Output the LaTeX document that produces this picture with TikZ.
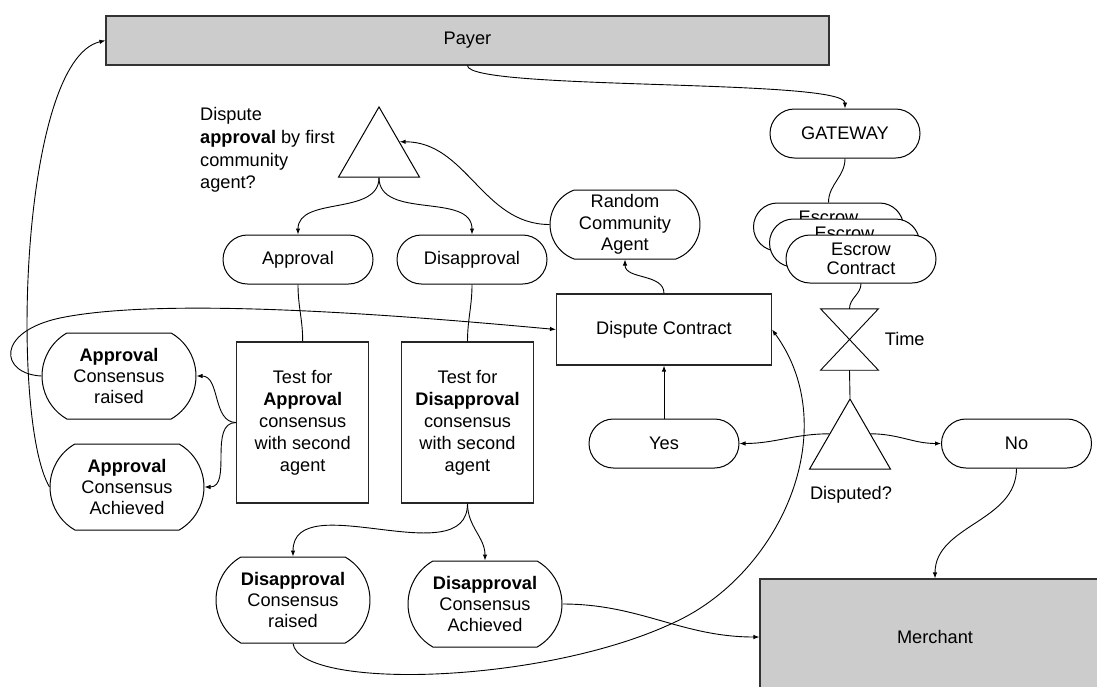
\documentclass[tikz,border=0pt]{standalone}
\usepackage{fontspec}
\setmainfont{Liberation Sans}
\usetikzlibrary{
  arrows.meta,
  positioning,
  shapes.geometric,
  shapes.misc
}
\definecolor{actorgray}{HTML}{CCCCCC}

\begin{document}
\begin{tikzpicture}[
            x=1pt, y=-1pt,
            font=\fontsize{18.2}{22}\selectfont,
            actor/.style={rectangle, minimum height=49pt, text centered, draw=black!80, line width=1.1pt, fill=actorgray, inner sep=0pt},
            process/.style={rectangle, minimum width=132pt, minimum height=161pt, align=center, draw=black!85, line width=1.1pt, fill=white, inner sep=0pt},
            terminal/.style={rounded rectangle, minimum width=150pt, minimum height=49pt, align=center, draw=black, line width=1pt, fill=white, inner sep=0pt},
            outcome/.style={terminal, rounded rectangle arc length=120, minimum height=86pt, inner xsep=-2pt, font=\fontsize{18.2}{21.3}\selectfont},
            decision/.style={regular polygon, regular polygon sides=3, minimum size=93.5pt, draw=black, line width=1pt, inner sep=0pt},
            link/.style={line width=0.9pt},
            arrow/.style={link, -{Latex[length=6pt,width=4.5pt]}}
        ]

        \useasboundingbox (0,0) rectangle (1097,686);
        \clip (0,0) rectangle (1097,686);

        % Nodes
        \node (payer) [actor, minimum width=723pt] at (467.5,40.5) {Payer};
        \node (merchant) [actor, minimum width=350pt, minimum height=116pt] at (935,637) {Merchant};

        \node (gateway) [terminal] at (845,133.5) {GATEWAY};
        \node (escrowA) [terminal, minimum height=48pt, font=\fontsize{18.2}{19.5}\selectfont] at (828.5,227) {Escrow\\Contract};
        \node (escrowB) [terminal, minimum height=48pt, font=\fontsize{18.2}{19.5}\selectfont] at (844.5,243) {Escrow\\Contract};
        \node (escrowC) [terminal, minimum height=48pt, font=\fontsize{18.2}{19.5}\selectfont] at (861,259) {Escrow\\Contract};

        \node (timer) [minimum width=57.5pt, minimum height=61pt, inner sep=0pt] at (849.5,339.5) {};
        \node (timelabel) [anchor=west, inner sep=0pt] at (884.6,339) {Time};
        \draw [link] (timer.north west) -- (timer.north east) -- (timer.south west) -- (timer.south east) -- cycle;

        \node (disputed) [decision] at (850,445.75) {};
        \node (disputedlabel) at (851,495) {Disputed?};
        \node (yes) [terminal] at (664,443.5) {Yes};
        \node (no) [terminal] at (1016.5,443.5) {No};

        \node (dispute) [process, minimum width=215pt, minimum height=71pt] at (664,329.5) {Dispute Contract};
        \node (agent) [terminal, rounded rectangle arc length=140, minimum height=69pt, font=\fontsize{18.2}{21.3}\selectfont] at (625,224.5) {Random\\Community\\Agent};

        \node (firstcheck) [decision] at (379,153.7) {};
        \node (firstchecklabel) [anchor=west, inner sep=0pt, align=left, font=\fontsize{18.2}{22.7}\selectfont] at (200,150) {Dispute\\\textbf{approval} by first\\community\\agent?};

        \node (approval) [terminal] at (298,259.5) {Approval};
        \node (disapproval) [terminal] at (472,259.5) {Disapproval};

        \node (testapproval) [process] at (302.7,422.5) {Test for\\\textbf{Approval}\\consensus\\with second\\agent};
        \node (testdisapproval) [process] at (467.5,422.5) {Test for\\\textbf{Disapproval}\\consensus\\with second\\agent};

        \node (araised) [outcome] at (119,376) {\textbf{Approval}\\Consensus\\raised};
        \node (aachieved) [outcome] at (127,487) {\textbf{Approval}\\Consensus\\Achieved};
        \node (draised) [outcome] at (293,600) {\textbf{Disapproval}\\Consensus\\raised};
        \node (dachieved) [outcome] at (485,604) {\textbf{Disapproval}\\Consensus\\Achieved};

        % Links
        \draw [arrow] (payer.south) .. controls +(0,25) and +(0,-30) .. (gateway.north);
        \draw [link] (gateway.south) to[out=-90, in=90] (escrowA.north);
        \draw [link] (escrowC.south) to[out=-90, in=90] (timer.north);
        \draw [link] (timer.south) -- (disputed.north);

        \draw [arrow] (disputed.side 1) to[out=180, in=0] (yes.east);
        \draw [arrow] (disputed.side 3) to[out=0, in=180] (no.west);
        \draw [arrow] (yes.north) -- (dispute.south);
        \draw [arrow] (no.south) to[out=-90, in=90] (merchant.north);

        \draw [arrow] (dispute.north) to[out=90, in=-90] (agent.south);
        \draw [arrow] (agent.west) to[out=180, in=0] (firstcheck.side 3);

        \draw [arrow] (firstcheck.south) to[out=-90, in=90] (approval.north);
        \draw [arrow] (firstcheck.south) to[out=-90, in=90] (disapproval.north);
        \draw [link] (approval.south) to[out=-90, in=90] (testapproval.north);
        \draw [link] (disapproval.south) to[out=-90, in=90] (testdisapproval.north);

        \draw [arrow] (testapproval.west) to[out=180, in=0] (araised.east);
        \draw [arrow] (testapproval.west) to[out=180, in=0] (aachieved.east);
        \draw [arrow] (araised.west) .. controls (0,374) and (-5,332) .. (60,318) .. controls (170,295) and (430,318) .. (dispute.west);
        \draw [arrow] (aachieved.west) .. controls (10,420) and (20,60) .. (payer.west);

        \draw [arrow] (testdisapproval.south) to[out=-90, in=90] (draised.north);
        \draw [arrow] (testdisapproval.south) to[out=-90, in=90] (dachieved.north);
        \draw [arrow] (draised.south) .. controls (300,690) and (540,685) .. (673,623) .. controls (780,575) and (845,430) .. (dispute.east);
        \draw [arrow] (dachieved.east) to[out=0, in=180] (merchant.west);

    \end{tikzpicture}
\end{document}
